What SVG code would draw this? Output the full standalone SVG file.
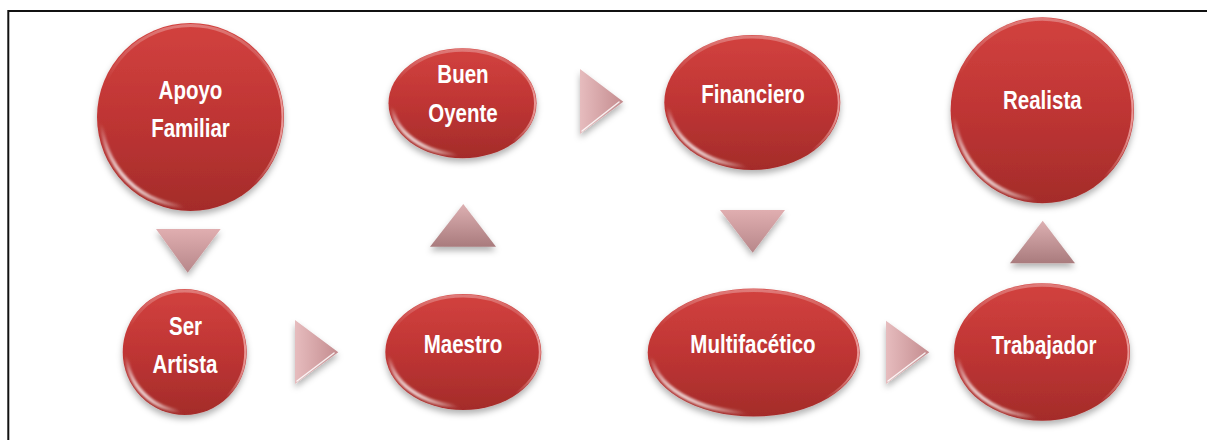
<svg xmlns="http://www.w3.org/2000/svg" width="1207" height="440" viewBox="0 0 1207 440">
<defs>
  <linearGradient id="nodeFill" x1="0" y1="0" x2="0" y2="1">
    <stop offset="0" stop-color="#d2423f"/>
    <stop offset="0.5" stop-color="#bf3534"/>
    <stop offset="1" stop-color="#a42c2a"/>
  </linearGradient>
  <linearGradient id="rimLow" x1="0.08" y1="0.92" x2="0.5" y2="0.5">
    <stop offset="0.1" stop-color="#ffffff" stop-opacity="0.95"/>
    <stop offset="0.36" stop-color="#ffffff" stop-opacity="0"/>
  </linearGradient>
  <linearGradient id="rimRight" x1="1" y1="0.5" x2="0.6" y2="0.5">
    <stop offset="0" stop-color="#f4b0ae" stop-opacity="0.8"/>
    <stop offset="0.4" stop-color="#f4b0ae" stop-opacity="0"/>
  </linearGradient>
  <linearGradient id="rimTop" x1="0.5" y1="0" x2="0.5" y2="0.3">
    <stop offset="0" stop-color="#ffffff" stop-opacity="0.3"/>
    <stop offset="1" stop-color="#ffffff" stop-opacity="0"/>
  </linearGradient>
  <linearGradient id="triDown" x1="0" y1="0" x2="0" y2="1">
    <stop offset="0" stop-color="#e0aeb0"/>
    <stop offset="1" stop-color="#b7878a"/>
  </linearGradient>
  <linearGradient id="triUp" x1="0" y1="0" x2="0" y2="1">
    <stop offset="0" stop-color="#ddb0b2"/>
    <stop offset="1" stop-color="#a97b7d"/>
  </linearGradient>
  <linearGradient id="triRight" x1="0" y1="0" x2="1" y2="0">
    <stop offset="0" stop-color="#e6bcbe"/>
    <stop offset="1" stop-color="#c48c8f"/>
  </linearGradient>
  <filter id="shadow" x="-20%" y="-20%" width="140%" height="150%">
    <feDropShadow dx="0" dy="4" stdDeviation="3" flood-color="#000" flood-opacity="0.3"/>
  </filter>
  <filter id="soft" x="-10%" y="-10%" width="120%" height="120%">
    <feGaussianBlur stdDeviation="1.2"/>
  </filter>
</defs>
<style>
  .body { fill: url(#nodeFill); filter: url(#shadow); }
  .rim { fill: none; stroke: url(#rimLow); stroke-width: 4; filter: url(#soft); }
  .rimR { fill: none; stroke: url(#rimRight); stroke-width: 2; }
  .rimT { fill: none; stroke: url(#rimTop); stroke-width: 3; }
  .label { fill: #ffffff; font-family: "Liberation Sans", Arial, sans-serif; font-weight: bold; font-size: 25px; text-anchor: middle; }
  .down { fill: url(#triDown); filter: url(#shadow); }
  .up { fill: url(#triUp); filter: url(#shadow); }
  .right { fill: url(#triRight); filter: url(#shadow); }
  .bevel { fill: none; stroke: #ffffff; stroke-opacity: 0.85; stroke-width: 1.5; stroke-linecap: round; }
</style>
<rect width="1207" height="440" fill="#ffffff"/>
<path d="M 8.3 440 V 11 H 1207" fill="none" stroke="#111111" stroke-width="2"/>

<g id="connectors">
  <polygon class="down" points="156,229 220.7,229 187.7,272.7"/>
  <polygon class="right" points="295,320 295,384 338.3,352.3"/>
  <path class="bevel" d="M 297 381 L 334 353"/>
  <polygon class="up" points="463.3,204 430,246.7 496,246.7"/>
  <polygon class="right" points="580,69 580,134 623.3,101.7"/>
  <path class="bevel" d="M 582 131 L 619 102"/>
  <polygon class="down" points="720,210 785,210 752.7,252.7"/>
  <polygon class="right" points="886,320.7 886,384 929.3,352.3"/>
  <path class="bevel" d="M 888 381 L 925 353"/>
  <polygon class="up" points="1042.7,220.7 1010,263.3 1075,263.3"/>
</g>

<g id="node-apoyo-familiar">
  <ellipse class="body" cx="190.5" cy="117" rx="93.5" ry="94"/>
  <ellipse class="rimT" cx="190.5" cy="117" rx="91" ry="91.5"/>
  <ellipse class="rimR" cx="190.5" cy="117" rx="92" ry="92.5"/>
  <ellipse class="rim" cx="190.5" cy="117" rx="89" ry="89.5"/>
  <text class="label" transform="translate(190.5 99) scale(0.82 1)">Apoyo</text>
  <text class="label" transform="translate(190.5 137) scale(0.82 1)">Familiar</text>
</g>

<g id="node-ser-artista">
  <ellipse class="body" cx="184.7" cy="352" rx="62" ry="63"/>
  <ellipse class="rimT" cx="184.7" cy="352" rx="60" ry="61"/>
  <ellipse class="rimR" cx="184.7" cy="352" rx="60.5" ry="61.5"/>
  <ellipse class="rim" cx="184.7" cy="352" rx="58" ry="59"/>
  <text class="label" transform="translate(185.5 335) scale(0.82 1)">Ser</text>
  <text class="label" transform="translate(185 372.7) scale(0.82 1)">Artista</text>
</g>

<g id="node-maestro">
  <ellipse class="body" cx="463.3" cy="352" rx="78" ry="58"/>
  <ellipse class="rimT" cx="463.3" cy="352" rx="76" ry="56"/>
  <ellipse class="rimR" cx="463.3" cy="352" rx="76.5" ry="56.5"/>
  <ellipse class="rim" cx="463.3" cy="352" rx="74" ry="54"/>
  <text class="label" transform="translate(463 353.3) scale(0.82 1)">Maestro</text>
</g>

<g id="node-buen-oyente">
  <ellipse class="body" cx="462.5" cy="103.3" rx="74" ry="55"/>
  <ellipse class="rimT" cx="462.5" cy="103.3" rx="72" ry="53"/>
  <ellipse class="rimR" cx="462.5" cy="103.3" rx="72.5" ry="53.5"/>
  <ellipse class="rim" cx="462.5" cy="103.3" rx="70" ry="51"/>
  <text class="label" transform="translate(463 83.3) scale(0.82 1)">Buen</text>
  <text class="label" transform="translate(463 121.7) scale(0.82 1)">Oyente</text>
</g>

<g id="node-financiero">
  <ellipse class="body" cx="752.3" cy="102.5" rx="88" ry="67.5"/>
  <ellipse class="rimT" cx="752.3" cy="102.5" rx="86" ry="65.5"/>
  <ellipse class="rimR" cx="752.3" cy="102.5" rx="86.5" ry="66"/>
  <ellipse class="rim" cx="752.3" cy="102.5" rx="84" ry="63.5"/>
  <text class="label" transform="translate(753 103.3) scale(0.82 1)">Financiero</text>
</g>

<g id="node-multifacetico">
  <ellipse class="body" cx="753.7" cy="352.5" rx="106" ry="64"/>
  <ellipse class="rimT" cx="753.7" cy="352.5" rx="104" ry="62"/>
  <ellipse class="rimR" cx="753.7" cy="352.5" rx="104.5" ry="62.5"/>
  <ellipse class="rim" cx="753.7" cy="352.5" rx="102" ry="60"/>
  <text class="label" transform="translate(753 353.3) scale(0.82 1)">Multifacético</text>
</g>

<g id="node-trabajador">
  <ellipse class="body" cx="1042" cy="352" rx="88" ry="68.7"/>
  <ellipse class="rimT" cx="1042" cy="352" rx="86" ry="66.7"/>
  <ellipse class="rimR" cx="1042" cy="352" rx="86.5" ry="67.2"/>
  <ellipse class="rim" cx="1042" cy="352" rx="84" ry="64.7"/>
  <text class="label" transform="translate(1044 354) scale(0.82 1)">Trabajador</text>
</g>

<g id="node-realista">
  <ellipse class="body" cx="1042.3" cy="110.3" rx="91.7" ry="93"/>
  <ellipse class="rimT" cx="1042.3" cy="110.3" rx="89.7" ry="91"/>
  <ellipse class="rimR" cx="1042.3" cy="110.3" rx="90.2" ry="91.5"/>
  <ellipse class="rim" cx="1042.3" cy="110.3" rx="87.7" ry="89"/>
  <text class="label" transform="translate(1042.3 109.3) scale(0.82 1)">Realista</text>
</g>
</svg>
